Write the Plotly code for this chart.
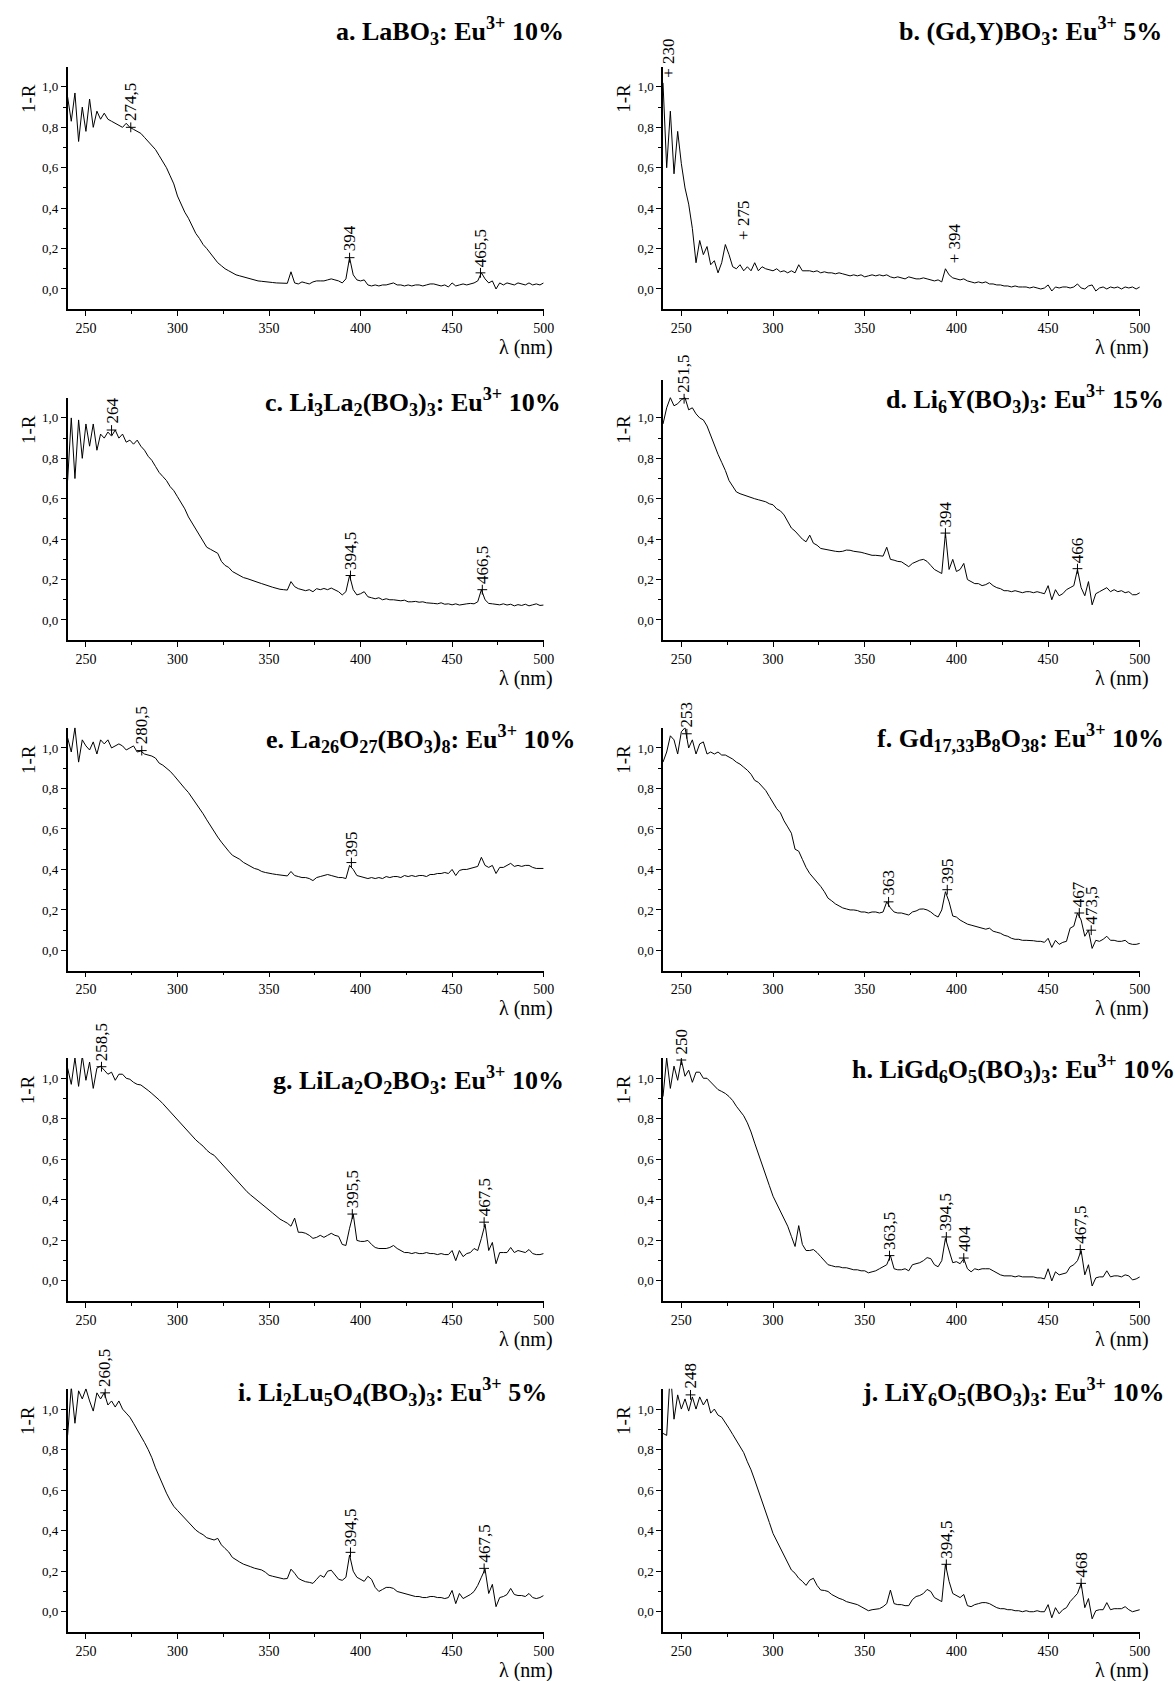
import plotly.graph_objects as go

W, H = 1175, 1681
FONT = "Liberation Serif"

# ---------------- data ----------------
WL = list(range(240, 501, 2))  # wavelength grid (nm)

Y_A = [0.95, 0.83, 0.97, 0.73, 0.90, 0.78, 0.94, 0.80, 0.88, 0.84,
       0.87, 0.84, 0.83, 0.82, 0.81, 0.80, 0.82, 0.80, 0.79, 0.78,
       0.77, 0.75, 0.73, 0.71, 0.69, 0.66, 0.63, 0.60, 0.56, 0.52,
       0.46, 0.42, 0.38, 0.35, 0.31, 0.275, 0.25, 0.22, 0.20, 0.175,
       0.15, 0.13, 0.115, 0.10, 0.09, 0.08, 0.07, 0.065, 0.06, 0.055,
       0.048, 0.045, 0.04, 0.038, 0.035, 0.035, 0.032, 0.03, 0.03, 0.028,
       0.028, 0.085, 0.03, 0.025, 0.035, 0.03, 0.025, 0.035, 0.04, 0.04,
       0.04, 0.045, 0.05, 0.045, 0.04, 0.03, 0.05, 0.155, 0.07, 0.045,
       0.04, 0.045, 0.02, 0.015, 0.02, 0.015, 0.02, 0.02, 0.025, 0.03,
       0.02, 0.02, 0.015, 0.02, 0.015, 0.02, 0.02, 0.015, 0.02, 0.025,
       0.025, 0.02, 0.015, 0.02, 0.01, 0.03, 0.015, 0.02, 0.025, 0.02,
       0.025, 0.03, 0.04, 0.08, 0.05, 0.03, 0.04, 0.0, 0.03, 0.02,
       0.03, 0.025, 0.02, 0.03, 0.025, 0.02, 0.03, 0.02, 0.025, 0.02,
       0.03]

Y_B = [1.02, 0.60, 0.88, 0.57, 0.78, 0.62, 0.50, 0.42, 0.30, 0.13,
       0.24, 0.17, 0.21, 0.12, 0.14, 0.08, 0.13, 0.22, 0.17, 0.11,
       0.10, 0.12, 0.09, 0.11, 0.09, 0.13, 0.09, 0.11, 0.10, 0.095,
       0.09, 0.10, 0.085, 0.09, 0.08, 0.09, 0.08, 0.12, 0.09, 0.09,
       0.09, 0.085, 0.09, 0.08, 0.085, 0.08, 0.08, 0.075, 0.08, 0.075,
       0.07, 0.065, 0.07, 0.065, 0.07, 0.06, 0.065, 0.07, 0.065, 0.07,
       0.065, 0.07, 0.06, 0.055, 0.06, 0.055, 0.05, 0.06, 0.055, 0.05,
       0.05, 0.055, 0.05, 0.045, 0.04, 0.045, 0.035, 0.10, 0.07, 0.055,
       0.05, 0.045, 0.05, 0.04, 0.035, 0.03, 0.035, 0.03, 0.035, 0.025,
       0.025, 0.02, 0.02, 0.015, 0.015, 0.01, 0.015, 0.01, 0.01, 0.01,
       0.005, 0.01, 0.005, 0.0, 0.005, 0.02, -0.01, 0.01, 0.005, 0.01,
       0.01, 0.005, 0.01, 0.025, 0.005, 0.0, 0.015, 0.02, -0.01, 0.005,
       0.01, 0.0, 0.01, 0.005, 0.01, 0.0, 0.01, 0.005, 0.01, 0.0,
       0.01]

Y_C = [0.69, 1.00, 0.70, 0.99, 0.80, 0.97, 0.86, 0.97, 0.84, 0.92,
       0.90, 0.93, 0.91, 0.94, 0.90, 0.92, 0.88, 0.89, 0.87, 0.89,
       0.86, 0.84, 0.81, 0.79, 0.76, 0.73, 0.71, 0.69, 0.66, 0.64,
       0.61, 0.58, 0.55, 0.51, 0.48, 0.445, 0.42, 0.39, 0.36, 0.35,
       0.34, 0.33, 0.29, 0.27, 0.26, 0.24, 0.23, 0.22, 0.21, 0.205,
       0.198, 0.19, 0.186, 0.18, 0.172, 0.168, 0.162, 0.156, 0.152, 0.15,
       0.148, 0.19, 0.165, 0.155, 0.15, 0.145, 0.15, 0.14, 0.155, 0.15,
       0.156, 0.15, 0.158, 0.15, 0.14, 0.124, 0.14, 0.22, 0.15, 0.124,
       0.13, 0.14, 0.115, 0.11, 0.105, 0.11, 0.10, 0.105, 0.10, 0.10,
       0.099, 0.095, 0.098, 0.09, 0.09, 0.092, 0.088, 0.09, 0.085, 0.085,
       0.082, 0.08, 0.085, 0.078, 0.08, 0.075, 0.08, 0.074, 0.078, 0.08,
       0.082, 0.08, 0.09, 0.15, 0.10, 0.082, 0.08, 0.078, 0.075, 0.08,
       0.074, 0.078, 0.07, 0.076, 0.072, 0.078, 0.07, 0.075, 0.08, 0.072,
       0.074]

Y_D = [0.97, 1.05, 1.10, 1.06, 1.07, 1.09, 1.10, 1.04, 1.05, 1.02,
       1.00, 0.99, 0.96, 0.91, 0.86, 0.82, 0.78, 0.74, 0.69, 0.66,
       0.634, 0.625, 0.618, 0.61, 0.605, 0.60, 0.595, 0.59, 0.585, 0.575,
       0.57, 0.55, 0.54, 0.52, 0.49, 0.455, 0.44, 0.42, 0.40, 0.387,
       0.42, 0.38, 0.37, 0.354, 0.35, 0.346, 0.345, 0.34, 0.338, 0.34,
       0.346, 0.345, 0.34, 0.338, 0.335, 0.33, 0.325, 0.32, 0.32, 0.318,
       0.316, 0.36, 0.30, 0.296, 0.29, 0.288, 0.275, 0.264, 0.28, 0.29,
       0.296, 0.30, 0.29, 0.27, 0.25, 0.24, 0.23, 0.43, 0.25, 0.30,
       0.24, 0.25, 0.28, 0.20, 0.19, 0.18, 0.18, 0.17, 0.175, 0.185,
       0.17, 0.16, 0.155, 0.145, 0.145, 0.14, 0.145, 0.14, 0.135, 0.14,
       0.14, 0.135, 0.14, 0.135, 0.13, 0.17, 0.10, 0.15, 0.12, 0.13,
       0.15, 0.16, 0.17, 0.25, 0.16, 0.12, 0.19, 0.075, 0.13, 0.14,
       0.15, 0.16, 0.14, 0.15, 0.14, 0.145, 0.135, 0.14, 0.125, 0.125,
       0.135]

Y_E = [1.05, 0.98, 1.10, 0.93, 1.04, 1.01, 0.99, 1.03, 0.97, 1.04,
       1.02, 1.04, 1.00, 1.01, 1.02, 1.01, 0.99, 1.00, 1.01, 0.98,
       0.985, 0.97, 0.965, 0.96, 0.95, 0.925, 0.915, 0.90, 0.885, 0.865,
       0.842, 0.82, 0.80, 0.78, 0.755, 0.727, 0.70, 0.675, 0.645, 0.615,
       0.587, 0.56, 0.535, 0.51, 0.49, 0.47, 0.46, 0.45, 0.435, 0.425,
       0.414, 0.405, 0.40, 0.39, 0.385, 0.38, 0.378, 0.375, 0.372, 0.37,
       0.368, 0.39, 0.37, 0.365, 0.36, 0.36, 0.355, 0.345, 0.36, 0.365,
       0.37, 0.375, 0.37, 0.365, 0.36, 0.36, 0.355, 0.42, 0.40, 0.37,
       0.365, 0.36, 0.355, 0.36, 0.355, 0.36, 0.355, 0.365, 0.36, 0.365,
       0.365, 0.36, 0.37, 0.365, 0.37, 0.365, 0.37, 0.37, 0.365, 0.375,
       0.375, 0.38, 0.38, 0.385, 0.38, 0.40, 0.37, 0.395, 0.40, 0.40,
       0.405, 0.41, 0.415, 0.46, 0.42, 0.41, 0.42, 0.38, 0.41, 0.41,
       0.42, 0.43, 0.415, 0.42, 0.415, 0.42, 0.42, 0.41, 0.405, 0.405,
       0.405]

Y_F = [0.93, 0.98, 1.06, 1.04, 0.97, 1.08, 1.10, 1.00, 1.04, 0.97,
       1.02, 1.03, 0.97, 0.98, 0.97, 0.98, 0.965, 0.965, 0.955, 0.945,
       0.93, 0.92, 0.905, 0.89, 0.87, 0.84, 0.83, 0.81, 0.79, 0.76,
       0.727, 0.70, 0.68, 0.64, 0.61, 0.579, 0.50, 0.49, 0.45, 0.41,
       0.38, 0.36, 0.34, 0.316, 0.29, 0.258, 0.245, 0.23, 0.22, 0.21,
       0.205, 0.20, 0.20, 0.197, 0.19, 0.19, 0.185, 0.19, 0.19, 0.185,
       0.19, 0.24, 0.21, 0.19, 0.185, 0.185, 0.18, 0.175, 0.19, 0.195,
       0.204, 0.205, 0.20, 0.19, 0.175, 0.165, 0.20, 0.29, 0.24, 0.17,
       0.165, 0.15, 0.14, 0.13, 0.125, 0.12, 0.115, 0.11, 0.105, 0.11,
       0.095, 0.09, 0.085, 0.075, 0.07, 0.06, 0.055, 0.055, 0.05, 0.05,
       0.05, 0.048, 0.045, 0.045, 0.04, 0.06, 0.015, 0.05, 0.03, 0.04,
       0.045, 0.11, 0.12, 0.185, 0.15, 0.07, 0.10, 0.01, 0.05, 0.045,
       0.055, 0.07, 0.05, 0.05, 0.045, 0.045, 0.05, 0.035, 0.03, 0.03,
       0.035]

Y_G = [1.05, 0.97, 1.10, 0.96, 1.11, 0.99, 1.08, 0.95, 1.05, 1.06,
       1.04, 1.02, 1.03, 0.99, 1.02, 1.02, 1.00, 0.995, 0.98, 0.97,
       0.967, 0.955, 0.94, 0.925, 0.91, 0.893, 0.875, 0.855, 0.835, 0.815,
       0.794, 0.775, 0.755, 0.735, 0.716, 0.696, 0.68, 0.665, 0.645, 0.63,
       0.62, 0.60, 0.58, 0.56, 0.54, 0.515, 0.495, 0.475, 0.455, 0.44,
       0.424, 0.41, 0.395, 0.378, 0.364, 0.35, 0.335, 0.32, 0.305, 0.295,
       0.285, 0.27, 0.31, 0.24, 0.24, 0.235, 0.225, 0.21, 0.215, 0.225,
       0.215, 0.225, 0.235, 0.225, 0.22, 0.18, 0.175, 0.26, 0.33, 0.20,
       0.195, 0.195, 0.20, 0.18, 0.165, 0.16, 0.16, 0.16, 0.165, 0.175,
       0.16, 0.15, 0.14, 0.14, 0.135, 0.14, 0.135, 0.135, 0.14, 0.135,
       0.135, 0.13, 0.135, 0.13, 0.13, 0.15, 0.10, 0.15, 0.12, 0.135,
       0.14, 0.16, 0.15, 0.21, 0.28, 0.15, 0.19, 0.085, 0.14, 0.14,
       0.14, 0.165, 0.14, 0.15, 0.145, 0.14, 0.155, 0.135, 0.13, 0.13,
       0.135]

Y_H = [0.91, 1.10, 0.95, 1.06, 0.99, 1.09, 1.01, 1.04, 0.98, 1.03,
       1.03, 1.00, 1.00, 0.98, 0.965, 0.944, 0.935, 0.925, 0.91, 0.89,
       0.862, 0.84, 0.815, 0.78, 0.735, 0.68, 0.63, 0.58, 0.525, 0.47,
       0.418, 0.38, 0.34, 0.305, 0.27, 0.22, 0.17, 0.273, 0.18, 0.15,
       0.15, 0.155, 0.14, 0.12, 0.10, 0.08, 0.075, 0.07, 0.07, 0.065,
       0.065, 0.06, 0.055, 0.055, 0.05, 0.05, 0.04, 0.045, 0.05, 0.06,
       0.07, 0.08, 0.125, 0.06, 0.055, 0.055, 0.06, 0.05, 0.08, 0.085,
       0.09, 0.10, 0.115, 0.11, 0.08, 0.07, 0.10, 0.21, 0.15, 0.09,
       0.095, 0.085, 0.11, 0.06, 0.045, 0.06, 0.055, 0.06, 0.06, 0.06,
       0.05, 0.04, 0.03, 0.025, 0.025, 0.025, 0.02, 0.025, 0.02, 0.02,
       0.02, 0.02, 0.015, 0.015, 0.01, 0.06, 0.0, 0.045, 0.03, 0.035,
       0.04, 0.07, 0.08, 0.10, 0.15, 0.03, 0.08, -0.025, 0.015, 0.02,
       0.02, 0.05, 0.02, 0.025, 0.025, 0.02, 0.03, 0.025, 0.005, 0.01,
       0.02]

Y_I = [0.87, 1.11, 0.93, 1.09, 1.05, 1.10, 1.04, 0.99, 1.08, 1.05,
       1.08, 1.02, 1.04, 1.01, 1.04, 1.00, 0.98, 0.96, 0.93, 0.90,
       0.872, 0.835, 0.80, 0.76, 0.71, 0.666, 0.625, 0.585, 0.55, 0.52,
       0.50, 0.48, 0.465, 0.445, 0.425, 0.403, 0.39, 0.38, 0.365, 0.36,
       0.354, 0.362, 0.33, 0.312, 0.295, 0.268, 0.255, 0.245, 0.235, 0.23,
       0.222, 0.215, 0.21, 0.206, 0.195, 0.18, 0.175, 0.17, 0.164, 0.162,
       0.164, 0.21, 0.19, 0.165, 0.155, 0.148, 0.145, 0.14, 0.16, 0.18,
       0.17, 0.20, 0.205, 0.185, 0.16, 0.155, 0.17, 0.28, 0.20, 0.17,
       0.16, 0.15, 0.175, 0.16, 0.12, 0.10, 0.11, 0.12, 0.12, 0.115,
       0.10, 0.095, 0.09, 0.085, 0.08, 0.075, 0.075, 0.07, 0.07, 0.075,
       0.075, 0.07, 0.07, 0.065, 0.07, 0.105, 0.04, 0.09, 0.065, 0.075,
       0.085, 0.10, 0.13, 0.17, 0.21, 0.09, 0.135, 0.025, 0.07, 0.075,
       0.085, 0.115, 0.085, 0.08, 0.08, 0.075, 0.09, 0.07, 0.065, 0.07,
       0.08]

Y_J = [0.88, 0.87, 1.19, 0.95, 1.07, 1.00, 1.05, 0.99, 1.06, 1.00,
       1.06, 1.02, 1.05, 0.98, 1.00, 0.97, 0.96, 0.935, 0.905, 0.875,
       0.847, 0.815, 0.785, 0.74, 0.70, 0.65, 0.60, 0.545, 0.49, 0.44,
       0.386, 0.35, 0.31, 0.27, 0.24, 0.206, 0.19, 0.165, 0.15, 0.13,
       0.156, 0.165, 0.13, 0.107, 0.105, 0.10, 0.085, 0.075, 0.066, 0.06,
       0.05, 0.045, 0.04, 0.035, 0.025, 0.016, 0.005, 0.01, 0.012, 0.015,
       0.025, 0.04, 0.107, 0.04, 0.035, 0.035, 0.03, 0.03, 0.06, 0.075,
       0.08, 0.09, 0.11, 0.10, 0.07, 0.06, 0.05, 0.234, 0.15, 0.09,
       0.08, 0.07, 0.085, 0.03, 0.025, 0.035, 0.04, 0.045, 0.045, 0.04,
       0.03, 0.02, 0.015, 0.015, 0.01, 0.01, 0.005, 0.005, 0.0, 0.005,
       0.0, 0.0, 0.005, 0.0, 0.0, 0.035, -0.03, 0.02, -0.01, 0.01,
       0.02, 0.05, 0.07, 0.09, 0.14, 0.02, 0.065, -0.035, 0.005, 0.01,
       0.01, 0.045, 0.01, 0.015, 0.015, 0.015, 0.025, 0.01, 0.0, 0.005,
       0.01]

# peak labels: (text, x, y)
PEAKS_A = [("274,5", 274.5, 0.80), ("394", 394, 0.155), ("465,5", 465.5, 0.08)]
PEAKS_B = [("+ 230", 243, 1.035), ("+ 275", 284, 0.234), ("+ 394", 399, 0.115)]
PEAKS_C = [("264", 264, 0.94), ("394,5", 394.5, 0.22), ("466,5", 466.5, 0.15)]
PEAKS_D = [("251,5", 251.5, 1.095), ("394", 394, 0.43), ("466", 466, 0.254)]
PEAKS_E = [("280,5", 280.5, 0.987), ("395", 395, 0.434)]
PEAKS_F = [("253", 253, 1.07), ("363", 363, 0.24), ("395", 395, 0.30),
           ("467", 467, 0.185), ("473,5", 473.5, 0.10)]
PEAKS_G = [("258,5", 258.5, 1.057), ("395,5", 395.5, 0.33), ("467,5", 467.5, 0.29)]
PEAKS_H = [("250", 250, 1.09), ("363,5", 363.5, 0.125), ("394,5", 394.5, 0.217),
           ("404", 404, 0.113), ("467,5", 467.5, 0.155)]
PEAKS_I = [("260,5", 260.5, 1.08), ("394,5", 394.5, 0.293), ("467,5", 467.5, 0.214)]
PEAKS_J = [("248", 255, 1.07), ("394,5", 394.5, 0.234), ("468", 468, 0.14)]

TITLES = [
    "a. LaBO<sub>3</sub>: Eu<sup>3+</sup> 10%",
    "b. (Gd,Y)BO<sub>3</sub>: Eu<sup>3+</sup> 5%",
    "c. Li<sub>3</sub>La<sub>2</sub>(BO<sub>3</sub>)<sub>3</sub>: Eu<sup>3+</sup> 10%",
    "d. Li<sub>6</sub>Y(BO<sub>3</sub>)<sub>3</sub>: Eu<sup>3+</sup> 15%",
    "e. La<sub>26</sub>O<sub>27</sub>(BO<sub>3</sub>)<sub>8</sub>: Eu<sup>3+</sup> 10%",
    "f. Gd<sub>17,33</sub>B<sub>8</sub>O<sub>38</sub>: Eu<sup>3+</sup> 10%",
    "g. LiLa<sub>2</sub>O<sub>2</sub>BO<sub>3</sub>: Eu<sup>3+</sup> 10%",
    "h. LiGd<sub>6</sub>O<sub>5</sub>(BO<sub>3</sub>)<sub>3</sub>: Eu<sup>3+</sup> 10%",
    "i. Li<sub>2</sub>Lu<sub>5</sub>O<sub>4</sub>(BO<sub>3</sub>)<sub>3</sub>: Eu<sup>3+</sup> 5%",
    "j. LiY<sub>6</sub>O<sub>5</sub>(BO<sub>3</sub>)<sub>3</sub>: Eu<sup>3+</sup> 10%",
]

X_TICKS = [250, 300, 350, 400, 450, 500]
X_MINOR = [275, 325, 375, 425, 475]
Y_TICKS = [0.0, 0.2, 0.4, 0.6, 0.8, 1.0]
Y_TICK_TEXT = ["0,0", "0,2", "0,4", "0,6", "0,8", "1,0"]
Y_MINOR = [0.1, 0.3, 0.5, 0.7, 0.9]

SERIES = [Y_A, Y_B, Y_C, Y_D, Y_E, Y_F, Y_G, Y_H, Y_I, Y_J]
PEAKS = [PEAKS_A, PEAKS_B, PEAKS_C, PEAKS_D, PEAKS_E,
         PEAKS_F, PEAKS_G, PEAKS_H, PEAKS_I, PEAKS_J]
YMAX = [1.1, 1.1, 1.1, 1.19, 1.1, 1.1, 1.1, 1.1, 1.1, 1.1]

# ---------------- layout geometry (pixels) ----------------
COLS_X = [(68.2, 548.3), (668.7, 1149.6)]
ROWS_Y = [(66.7, 309.2), (397.7, 640.2), (727.7, 970.7), (1058.0, 1301.2), (1388.8, 1632.0)]
TITLE_POS = [(570, 31), (1173, 31), (567, 402), (1175, 399), (582, 739),
             (1175, 738), (570, 1080), (1186, 1069), (553, 1392), (1175, 1392)]
YLAB_X = [28, 629]
XLAB_R = [559, 1160]

fig = go.Figure()
layout = dict(width=W, height=H, margin=dict(l=0, r=0, t=0, b=0),
              paper_bgcolor="white", plot_bgcolor="white", showlegend=False,
              font=dict(family=FONT, color="black"))
annotations = []

for k in range(10):
    r, c = divmod(k, 2)
    n = k + 1
    xs = "" if n == 1 else str(n)
    x0, x1 = COLS_X[c]
    top11, bot = ROWS_Y[r]
    ymax = YMAX[k]
    ppu = (bot - top11) / 1.2
    top = bot - ppu * (ymax + 0.1)

    layout["xaxis" + xs] = dict(
        domain=[x0 / W, x1 / W], range=[240, 500], anchor="y" + xs,
        showline=True, linecolor="black", linewidth=1.5,
        ticks="outside", ticklen=5, tickwidth=1, tickcolor="black",
        tickvals=X_TICKS, showgrid=False, zeroline=False,
        tickfont=dict(family=FONT, size=14, color="black"),
        minor=dict(tickvals=X_MINOR, ticks="outside", ticklen=3,
                   tickcolor="black", tickwidth=1, showgrid=False),
    )
    layout["yaxis" + xs] = dict(
        domain=[1 - bot / H, 1 - top / H], range=[-0.1, ymax], anchor="x" + xs,
        showline=True, linecolor="black", linewidth=1.5,
        ticks="outside", ticklen=5, tickwidth=1, tickcolor="black",
        tickvals=Y_TICKS, ticktext=Y_TICK_TEXT, showgrid=False, zeroline=False,
        tickfont=dict(family=FONT, size=13, color="black"),
        minor=dict(tickvals=Y_MINOR, ticks="outside", ticklen=3,
                   tickcolor="black", tickwidth=1, showgrid=False),
    )

    fig.add_trace(go.Scatter(x=WL, y=SERIES[k], mode="lines",
                             line=dict(color="black", width=1),
                             xaxis="x" + xs, yaxis="y" + xs, hoverinfo="skip"))

    if k != 1:
        fig.add_trace(go.Scatter(x=[p[1] for p in PEAKS[k]], y=[p[2] for p in PEAKS[k]],
                                 mode="markers",
                                 marker=dict(symbol="cross-thin", size=7,
                                             line=dict(color="black", width=1)),
                                 xaxis="x" + xs, yaxis="y" + xs, hoverinfo="skip"))
    for (txt, px, py) in PEAKS[k]:
        annotations.append(dict(
            x=px, y=py, xref="x" + xs, yref="y" + xs, text=txt, showarrow=False,
            textangle=-90, xanchor="center", yanchor="bottom",
            yshift=(0 if k == 1 else 4),
            font=dict(family=FONT, size=17, color="black")))

    tx, ty = TITLE_POS[k]
    annotations.append(dict(
        x=tx / W, y=1 - ty / H, xref="paper", yref="paper",
        text="<b>" + TITLES[k] + "</b>", showarrow=False, borderpad=0,
        xanchor="right", yanchor="middle",
        font=dict(family=FONT, size=26, color="black")))

    annotations.append(dict(
        x=YLAB_X[c] / W, y=1 - (top11 + 31.5) / H,
        xref="paper", yref="paper", text="1-R", showarrow=False,
        textangle=-90, xanchor="center", yanchor="middle",
        font=dict(family=FONT, size=19, color="black")))

    annotations.append(dict(
        x=XLAB_R[c] / W, y=1 - (bot + 38) / H,
        xref="paper", yref="paper", text="λ (nm)", showarrow=False,
        xanchor="right", yanchor="middle", borderpad=0,
        font=dict(family=FONT, size=20, color="black")))

layout["annotations"] = annotations
fig.update_layout(**layout)
fig.write_html("out.html", config={"displayModeBar": False},
               post_script="document.body.style.margin='0px';document.body.style.overflow='hidden';")
